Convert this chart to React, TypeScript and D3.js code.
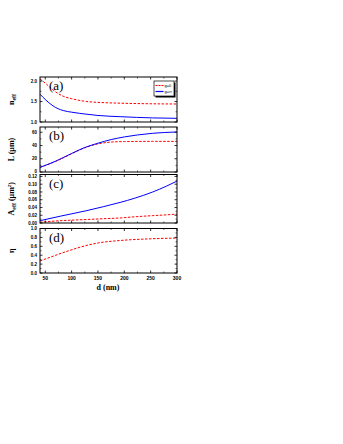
import React from "react";
import * as d3 from "d3";

const dA = [40, 50, 65, 84, 100, 129, 150, 192, 254, 300];
const nRed = [2.05, 1.95, 1.78, 1.63, 1.57, 1.5, 1.48, 1.46, 1.445, 1.44];
const nBlue = [1.68, 1.55, 1.39, 1.28, 1.24, 1.19, 1.16, 1.13, 1.1, 1.09];

const dB = [40, 70, 100, 125, 150, 175, 200, 225, 254, 300];
const lBlue = [7, 16.5, 28, 37, 43.5, 49, 53, 56, 58.5, 60.5];
const lRed = [7, 16, 27.5, 36.5, 42.5, 45.2, 46, 46.2, 46.3, 46.3];

const dC = [40, 80, 129, 160, 192, 220, 254, 280, 300];
const aBlue = [0.006, 0.018, 0.032, 0.042, 0.053, 0.064, 0.08, 0.095, 0.108];
const aRed = [0.002, 0.006, 0.009, 0.011, 0.013, 0.016, 0.019, 0.021, 0.023];

const dD = [40, 70, 97, 125, 150, 192, 254, 300];
const etaRed = [0.27, 0.4, 0.51, 0.61, 0.675, 0.73, 0.77, 0.785];

const xTicks = [50, 100, 150, 200, 250, 300];
const xMinor = [75, 125, 175, 225, 275];

const L = 40, R = 177;

type Panel = {
  key: string;
  top: number;
  bottom: number;
  domain: [number, number];
  ticks: number[];
  minor: number[];
  fmt: (v: number) => string;
  label: React.ReactNode;
  series: { x: number[]; y: number[]; color: string; dash?: string }[];
};

const panels: Panel[] = [
  {
    key: "(a)", top: 77, bottom: 122, domain: [1.0, 2.1],
    ticks: [1.0, 1.5, 2.0], minor: [1.25, 1.75], fmt: d3.format(".1f"),
    label: <>n<tspan fontSize={6} dy={2}>eff</tspan></>,
    series: [
      { x: dA, y: nRed, color: "#ff0000", dash: "2.5,1.5" },
      { x: dA, y: nBlue, color: "#0000ff" },
    ],
  },
  {
    key: "(b)", top: 127, bottom: 172, domain: [0, 68],
    ticks: [0, 20, 40, 60], minor: [10, 30, 50], fmt: d3.format("d"),
    label: <>L (μm)</>,
    series: [
      { x: dB, y: lRed, color: "#ff0000", dash: "2.5,1.5" },
      { x: dB, y: lBlue, color: "#0000ff" },
    ],
  },
  {
    key: "(c)", top: 174.5, bottom: 223, domain: [0, 0.125],
    ticks: [0, 0.02, 0.04, 0.06, 0.08, 0.1, 0.12], minor: [0.01, 0.03, 0.05, 0.07, 0.09, 0.11], fmt: d3.format(".2f"),
    label: <>A<tspan fontSize={6} dy={2}>eff</tspan><tspan dy={-2}> (μm</tspan><tspan fontSize={5} dy={-3}>2</tspan><tspan dy={3}>)</tspan></>,
    series: [
      { x: dC, y: aRed, color: "#ff0000", dash: "2.5,1.5" },
      { x: dC, y: aBlue, color: "#0000ff" },
    ],
  },
  {
    key: "(d)", top: 228.5, bottom: 273, domain: [0, 1],
    ticks: [0, 0.2, 0.4, 0.6, 0.8, 1.0], minor: [0.1, 0.3, 0.5, 0.7, 0.9], fmt: d3.format(".1f"),
    label: <>η</>,
    series: [{ x: dD, y: etaRed, color: "#ff0000", dash: "2.5,1.5" }],
  },
];

export default function App() {
  const x = d3.scaleLinear().domain([40, 300]).range([L, R]);
  const tickFont = "Liberation Sans, Arial, sans-serif";
  const serif = "Liberation Serif, Times New Roman, serif";
  return (
    <svg width={343} height={444} style={{ position: "absolute", left: 0, top: 0, background: "#fff" }}>
      {panels.map((p, pi) => {
        const y = d3.scaleLinear().domain(p.domain).range([p.bottom, p.top]);
        const line = d3.line<number>().curve(d3.curveMonotoneX);
        const mid = (p.top + p.bottom) / 2;
        return (
          <g key={p.key}>
            {p.series.map((s, si) => (
              <path key={si}
                d={line(s.x.map((xv, i) => [x(xv), y(s.y[i])]) as any) || ""}
                fill="none" stroke={s.color} strokeWidth={1} strokeDasharray={s.dash} />
            ))}
            <rect x={L} y={p.top} width={R - L} height={p.bottom - p.top} fill="none" stroke="#000" strokeWidth={1} />
            {xTicks.map(t => (
              <g key={"xt" + t}>
                <line x1={x(t)} x2={x(t)} y1={p.bottom} y2={p.bottom - 2.5} stroke="#000" strokeWidth={0.8} />
                <line x1={x(t)} x2={x(t)} y1={p.top} y2={p.top + 2.5} stroke="#000" strokeWidth={0.8} />
              </g>
            ))}
            {xMinor.map(t => (
              <g key={"xm" + t}>
                <line x1={x(t)} x2={x(t)} y1={p.bottom} y2={p.bottom - 1.5} stroke="#000" strokeWidth={0.6} />
                <line x1={x(t)} x2={x(t)} y1={p.top} y2={p.top + 1.5} stroke="#000" strokeWidth={0.6} />
              </g>
            ))}
            {p.ticks.map(t => (
              <g key={"yt" + t}>
                <line x1={L} x2={L + 2.5} y1={y(t)} y2={y(t)} stroke="#000" strokeWidth={0.8} />
                <line x1={R} x2={R - 2.5} y1={y(t)} y2={y(t)} stroke="#000" strokeWidth={0.8} />
                <text x={L - 3} y={y(t) + 1.6 - (pi === 1 && t === 0 ? 1 : 0)} textAnchor="end" fontSize={4.5} fontWeight="bold" fontFamily={tickFont}>{p.fmt(t)}</text>
              </g>
            ))}
            {p.minor.map(t => (
              <g key={"ym" + t}>
                <line x1={L} x2={L + 1.5} y1={y(t)} y2={y(t)} stroke="#000" strokeWidth={0.6} />
                <line x1={R} x2={R - 1.5} y1={y(t)} y2={y(t)} stroke="#000" strokeWidth={0.6} />
              </g>
            ))}
            <text x={49} y={p.top + 13} fontSize={13} fontFamily={serif}>{p.key}</text>
            <text transform={`translate(14,${mid}) rotate(-90)`} textAnchor="middle"
              fontSize={8} fontWeight="bold" fontFamily={serif}>{p.label}</text>
          </g>
        );
      })}
      {xTicks.map(t => (
        <text key={"xl" + t} x={x(t)} y={280} textAnchor="middle" fontSize={5} fontWeight="bold" fontFamily={tickFont}>{t}</text>
      ))}
      <text x={108} y={290} textAnchor="middle" fontSize={8} fontWeight="bold" fontFamily={serif}>d (nm)</text>
      <g>
        <rect x={155.5} y={82.5} width={20} height={15} fill="#000" />
        <rect x={154} y={81} width={20} height={15} fill="#fff" stroke="#000" strokeWidth={0.7} />
        <line x1={155.5} x2={163.5} y1={85.5} y2={85.5} stroke="#ff0000" strokeWidth={1.2} strokeDasharray="2,1" />
        <text x={164.5} y={87} fontSize={4} fontFamily={tickFont}>g=0</text>
        <line x1={155.5} x2={163.5} y1={91.5} y2={91.5} stroke="#0000ff" strokeWidth={1.2} />
        <text x={164.5} y={93} fontSize={4} fontFamily={tickFont}>g=∞</text>
      </g>
    </svg>
  );
}
